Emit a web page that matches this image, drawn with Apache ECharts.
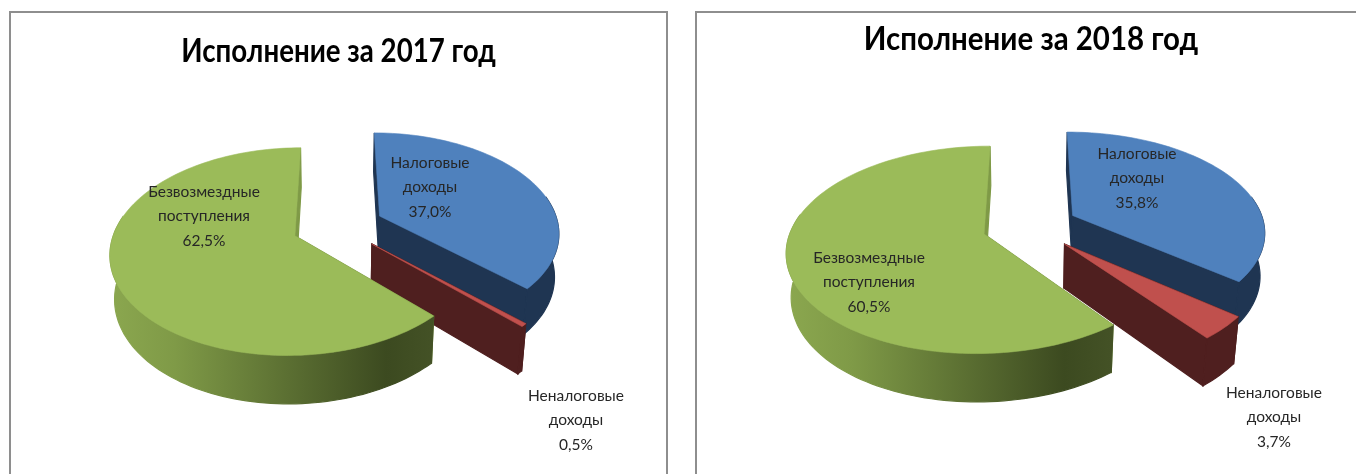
<!DOCTYPE html>
<html>
<head>
<meta charset="utf-8">
<style>
  html, body { margin: 0; padding: 0; background: #fff; }
  #chart { width: 1356px; height: 474px; }
</style>
<script src="https://cdn.jsdelivr.net/npm/echarts@6/dist/echarts.min.js"></script>
</head>
<body>
<div id="chart"></div>
<script>
// first line of each label is the category name, split over two lines
const categories = ['Налоговые\nдоходы', 'Неналоговые\nдоходы', 'Безвозмездные\nпоступления'];
const shares2017 = [37.0, 0.5, 62.5];
const shares2018 = [35.8, 3.7, 60.5];
const titles = ['Исполнение за 2017 год', 'Исполнение за 2018 год'];

const labelFont = '15.5px Lato, "Noto Sans", sans-serif';
const titleFont = 'bold 32px Lato, "Noto Sans", sans-serif';
const tops = ['#4f81bd', '#c0504d', '#9bbb59'];
const sides = ['#1f3552', '#4f1f1f', null];

// camera and layout for each pie, in pixels
const pie2017 = {
    shares: shares2017, vx: 338, vy: 226, R: 179, k: 0.55, explode: 46,
    labels: [[430, 187], [576, 420], [204, 216]], wall: [110, 435]
};
const pie2018 = {
    shares: shares2018, vx: 1030, vy: 226, R: 192, k: 0.515, explode: 48,
    labels: [[1137, 178], [1274, 417], [869, 282]], wall: [787, 1113]
};
const PERSP = 0.15;
const DEPTH = 44;
const SHRINK = 0.02;

function project(pie, X, Y, Z) {
    const w = 1 + PERSP * Y / pie.R + SHRINK * Z / DEPTH;
    return [pie.vx + X / w, pie.vy + (Z - pie.k * Y) / w];
}

function sliceRange(shares, index) {
    let before = 0;
    for (let i = 0; i < index; i++) before += shares[i];
    const toRad = Math.PI * 2 / 100;
    return [before * toRad, (before + shares[index]) * toRad];
}

function polygon(points, fill, z2, strokeWidth) {
    return { type: 'polygon', z2: z2, shape: { points: points }, style: { fill: fill, stroke: fill, lineWidth: strokeWidth } };
}

function greenWall(pie) {
    return new echarts.graphic.LinearGradient(pie.wall[0], 0, pie.wall[1], 0, [
        { offset: 0, color: '#8ba74f' },
        { offset: 0.2, color: '#7f9a47' },
        { offset: 0.85, color: '#3c4a20' },
        { offset: 1, color: '#445226' }
    ], true);
}

function renderSlice(pie, index) {
    const range = sliceRange(pie.shares, index);
    const mid = (range[0] + range[1]) / 2;
    const ox = Math.sin(mid) * pie.explode;
    const oy = Math.cos(mid) * pie.explode;

    const rim = [];
    const angles = [];
    const steps = Math.max(2, Math.ceil((range[1] - range[0]) / 0.03));
    for (let i = 0; i <= steps; i++) {
        const a = range[0] + (range[1] - range[0]) * i / steps;
        angles.push(a);
        rim.push([ox + Math.sin(a) * pie.R, oy + Math.cos(a) * pie.R]);
    }
    const top = rim.map((p) => project(pie, p[0], p[1], 0));
    const bottom = rim.map((p) => project(pie, p[0], p[1], DEPTH));
    const apexTop = project(pie, ox, oy, 0);
    const apexBottom = project(pie, ox, oy, DEPTH);
    const last = rim.length - 1;

    const isGreen = index === 2;
    const cutColor = isGreen ? '#7f9a47' : sides[index];
    const wallColor = isGreen ? greenWall(pie) : sides[index];

    // only the part of the rim that faces the viewer gets a wall
    const wallTop = top.filter((p, i) => Math.cos(angles[i]) <= 0.2);
    const wallBottom = bottom.filter((p, i) => Math.cos(angles[i]) <= 0.2);

    const children = [
        polygon([apexTop, top[0], bottom[0], apexBottom], cutColor, 1, 1.2),
        polygon([apexTop, top[last], bottom[last], apexBottom], cutColor, 1, 1.2),
        polygon(wallTop.concat(wallBottom.slice().reverse()), wallColor, 2, 1.2),
        polygon([apexTop].concat(top), tops[index], 3, 0.6)
    ];

    const value = pie.shares[index].toFixed(1).replace('.', ',') + '%';
    children.push({
        type: 'text',
        z2: 10,
        x: pie.labels[index][0],
        y: pie.labels[index][1],
        style: {
            text: categories[index] + '\n' + value,
            font: labelFont,
            fill: '#262626',
            align: 'center',
            verticalAlign: 'middle',
            lineHeight: 24.5
        }
    });
    return { type: 'group', children: children };
}

function pieSeries(pie) {
    return {
        type: 'custom',
        coordinateSystem: 'none',
        silent: true,
        animation: false,
        data: pie.shares,
        renderItem: (params) => renderSlice(pie, params.dataIndex)
    };
}

function frame(points) {
    return {
        type: 'polyline',
        shape: { points: points },
        style: { stroke: '#8e8e8e', lineWidth: 2, fill: null }
    };
}

// the reference titles are squeezed horizontally, each by its own amount
function titleText(text, x, y, squeeze) {
    return {
        type: 'text',
        x: x,
        y: y,
        scaleX: squeeze,
        style: { text: text, font: titleFont, fill: '#000', align: 'center', verticalAlign: 'middle' }
    };
}

const chart = echarts.init(document.getElementById('chart'), null, { renderer: 'canvas' });
chart.setOption({
    backgroundColor: '#ffffff',
    animation: false,
    graphic: [
        frame([[10, 474], [10, 12], [667, 12], [667, 474]]),
        frame([[696, 474], [696, 12], [1356, 12]]),
        titleText(titles[0], 338.5, 52, 0.865),
        titleText(titles[1], 1031, 40, 0.92)
    ],
    series: [pieSeries(pie2017), pieSeries(pie2018)]
});
</script>
</body>
</html>
